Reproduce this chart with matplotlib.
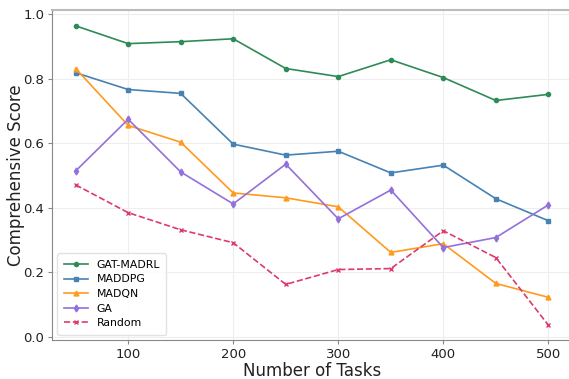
import numpy as np
import matplotlib.pyplot as plt

# =============================
# Data
# =============================
tasks = [50, 100, 150, 200, 250, 300, 350, 400, 450, 500]

gat_madrl = [0.963, 0.908, 0.914, 0.923, 0.831, 0.806, 0.858, 0.803, 0.732, 0.751]
maddpg = [0.818, 0.766, 0.754, 0.597, 0.563, 0.575, 0.508, 0.532, 0.428, 0.360]
madqn = [0.831, 0.655, 0.603, 0.446, 0.431, 0.403, 0.262, 0.289, 0.166, 0.123]
ga = [0.514, 0.674, 0.511, 0.412, 0.535, 0.366, 0.455, 0.277, 0.308, 0.409]
random_policy = [0.471, 0.385, 0.332, 0.292, 0.163, 0.209, 0.212, 0.329, 0.246, 0.037]

x_ticks = [100, 200, 300, 400, 500]
y_ticks = [0.0, 0.2, 0.4, 0.6, 0.8, 1.0]

# =============================
# Plot
# =============================
fig = plt.figure(figsize=(5.69, 3.79), dpi=100)
ax = fig.add_axes([52 / 569, 1 - 340 / 379, 520 / 569, 330 / 379])

ax.plot(tasks, gat_madrl, color="#2e8b57", marker="o", markersize=3, linewidth=1.2, label="GAT-MADRL")
ax.plot(tasks, maddpg, color="#4682b4", marker="s", markersize=3, linewidth=1.2, label="MADDPG")
ax.plot(tasks, madqn, color="#ff9a1f", marker="^", markersize=3.5, linewidth=1.2, label="MADQN")
ax.plot(tasks, ga, color="#9370db", marker="d", markersize=3.5, linewidth=1.2, label="GA")
ax.plot(tasks, random_policy, color="#dc3b6b", marker="x", markersize=2.5, linewidth=1.2,
        linestyle="--", label="Random")

ax.set_xlim(27.5, 522.5)
ax.set_ylim(-0.009, 1.012)
ax.set_xticks(x_ticks)
ax.set_yticks(y_ticks)
ax.set_yticklabels([f"{v:.1f}" for v in y_ticks])
ax.tick_params(axis="both", labelsize=9.5, color="#888888", length=3, labelcolor="#222222", pad=2.5)

ax.set_xlabel("Number of Tasks", fontsize=12, color="#222222", labelpad=1)
ax.set_ylabel("Comprehensive Score", fontsize=12, color="#222222")
ax.yaxis.set_label_coords(-0.052, 0.5)

ax.grid(True, color="#eeeeee", linewidth=0.8)
ax.set_axisbelow(True)
for side in ["left", "bottom"]:
    ax.spines[side].set_color("#888888")
ax.spines["top"].set_color("#bbbbbb")
ax.spines["top"].set_linewidth(1.5)
ax.spines["right"].set_visible(False)  # falls outside the cropped reference

leg = ax.legend(loc="lower left", fontsize=7.8, frameon=True, framealpha=0.85,
                edgecolor="#dddddd", handlelength=2.2, borderpad=0.6, labelspacing=0.42)

plt.savefig("out.png", dpi=100)
plt.close()
